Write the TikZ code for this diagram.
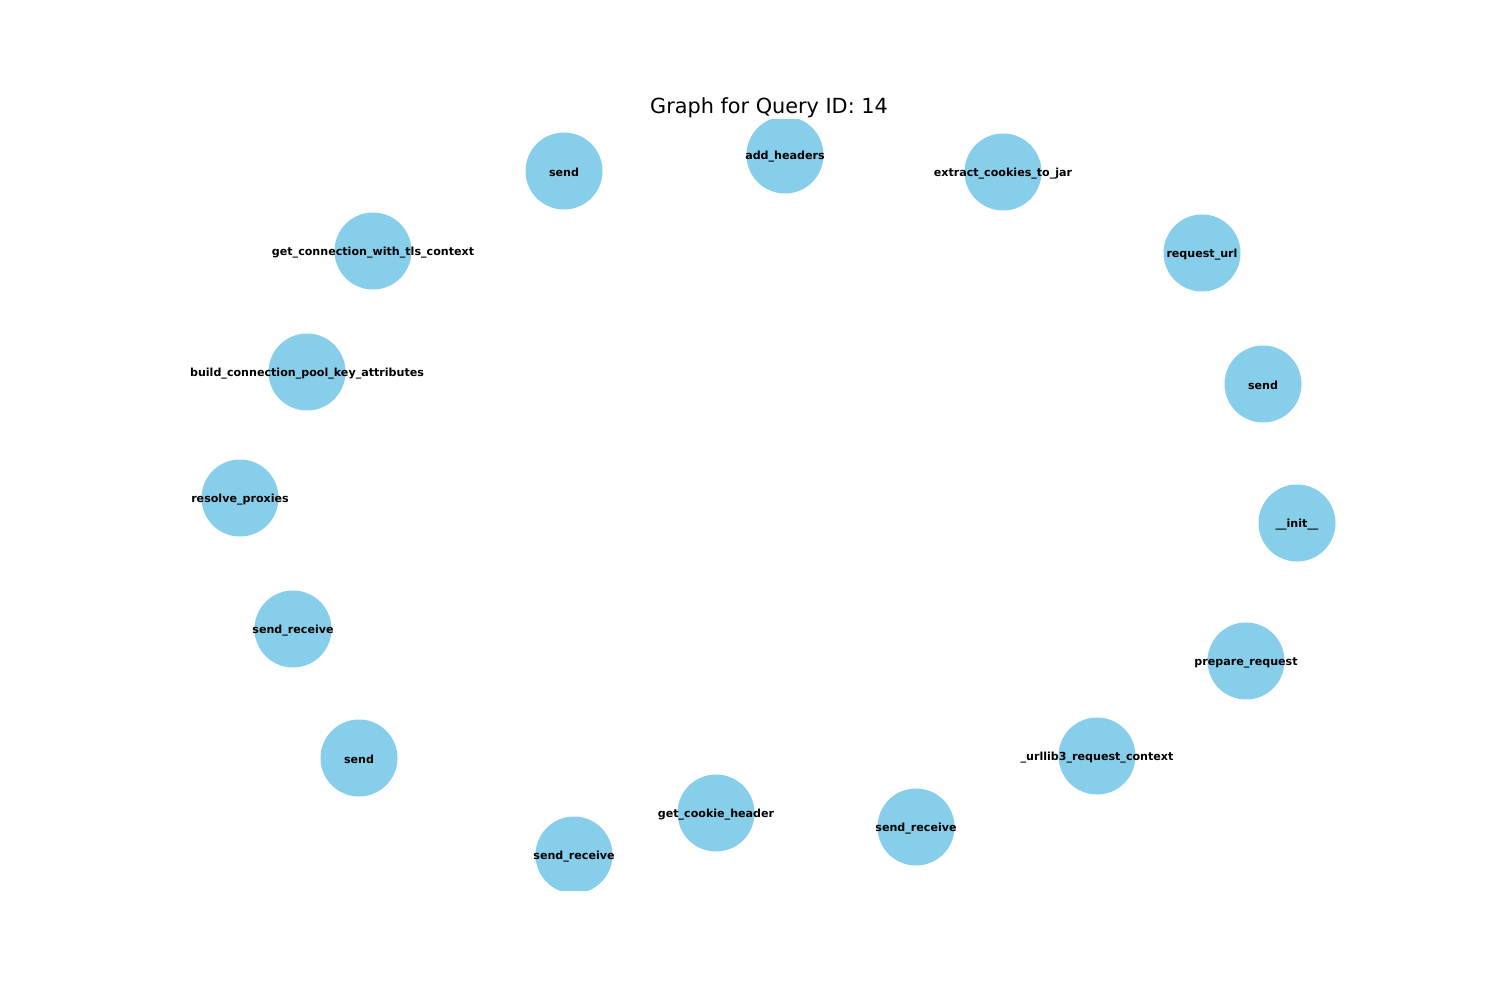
\documentclass[tikz,border=0pt]{standalone}
\usepackage{fontspec}
\setmainfont{DejaVu Sans}
\definecolor{skyblue}{HTML}{87CEEB}
\begin{document}
\begin{tikzpicture}[x=1pt,y=-1pt,
  vertex/.style={circle,fill=skyblue,draw=none,minimum size=77pt,inner sep=0pt},
  lbl/.style={font=\fontsize{11.1}{13}\selectfont\bfseries,inner sep=0pt,text=black,yshift=-1.5pt},
  ttl/.style={font=\fontsize{20.8}{25}\selectfont,inner sep=0pt}]
\useasboundingbox (0,0) rectangle (1500,1000);
\node[ttl] (title) at (769,107.5) {Graph for Query ID: 14};
\begin{scope}
  \clip (187.5,120) rectangle (1350,890);
  \node[vertex] (c1)  at (564,171) {};
  \node[vertex] (c2)  at (785,155) {};
  \node[vertex] (c3)  at (1003,172) {};
  \node[vertex] (c4)  at (1202,253) {};
  \node[vertex] (c5)  at (1263,384) {};
  \node[vertex] (c6)  at (1297,523) {};
  \node[vertex] (c7)  at (1246,661) {};
  \node[vertex] (c8)  at (1097,756) {};
  \node[vertex] (c9)  at (916,827) {};
  \node[vertex] (c10) at (716,813) {};
  \node[vertex] (c11) at (574,855) {};
  \node[vertex] (c12) at (359,758) {};
  \node[vertex] (c13) at (293,629) {};
  \node[vertex] (c14) at (240,498) {};
  \node[vertex] (c15) at (307,372) {};
  \node[vertex] (c16) at (373,251) {};
\end{scope}
\node[lbl] (l1)  at (c1)  {send};
\node[lbl] (l2)  at (c2)  {add\_headers};
\node[lbl] (l3)  at (c3)  {extract\_cookies\_to\_jar};
\node[lbl] (l4)  at (c4)  {request\_url};
\node[lbl] (l5)  at (c5)  {send};
\node[lbl] (l6)  at (c6)  {\_\_init\_\_};
\node[lbl] (l7)  at (c7)  {prepare\_request};
\node[lbl] (l8)  at (c8)  {\_urllib3\_request\_context};
\node[lbl] (l9)  at (c9)  {send\_receive};
\node[lbl] (l10) at (c10) {get\_cookie\_header};
\node[lbl] (l11) at (c11) {send\_receive};
\node[lbl] (l12) at (c12) {send};
\node[lbl] (l13) at (c13) {send\_receive};
\node[lbl] (l14) at (c14) {resolve\_proxies};
\node[lbl] (l15) at (c15) {build\_connection\_pool\_key\_attributes};
\node[lbl] (l16) at (c16) {get\_connection\_with\_tls\_context};
\end{tikzpicture}
\end{document}
